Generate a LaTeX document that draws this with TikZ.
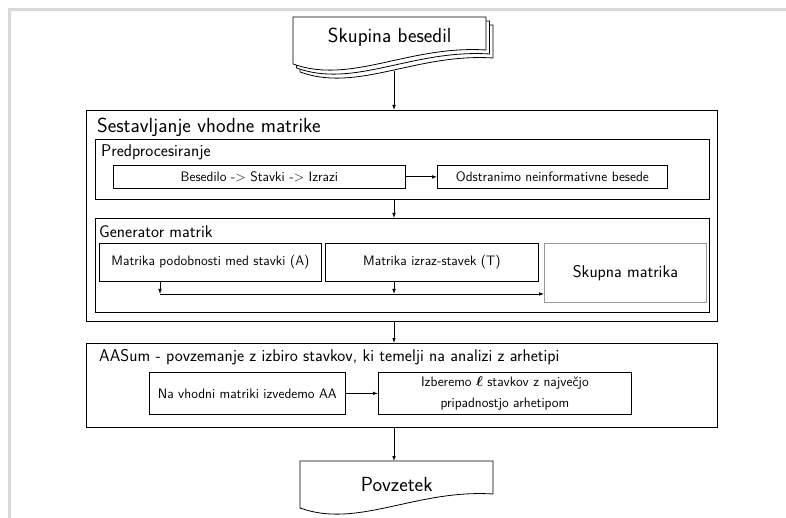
\documentclass[tikz,border=0pt]{standalone}
\usepackage{amsmath}
\usetikzlibrary{arrows.meta,calc}
\newcommand{\docpath}[3]{%
  \draw[line width=0.8pt, fill=white, #3] (#1,#2) -- ({#1+193},#2) -- ({#1+193},{#2+33})
    .. controls ({#1+115.8},{#2+28}) and ({#1+57.9},{#2+68}) .. (#1,{#2+47}) -- cycle;}
\begin{document}
\begin{tikzpicture}[x=1pt,y=-1pt,
  every node/.style={font=\sffamily},
  fLarge/.style={font=\sffamily\fontsize{20.4}{24}\selectfont},
  flarge/.style={font=\sffamily\fontsize{17}{20}\selectfont},
  fnorm/.style={font=\sffamily\fontsize{13.7}{21}\selectfont},
  box/.style={draw=black, line width=0.8pt, rectangle, inner sep=0pt, anchor=north west},
  ghost/.style={rectangle, inner sep=0pt, anchor=north west},
  arr/.style={line width=0.8pt, -{Latex[length=5pt,width=3.6pt]}},
  ln/.style={line width=0.8pt}
]
\useasboundingbox (0,0) rectangle (786,518);
% screenshot frame
\draw[line width=2.5pt, color=black!15] (786,9.5) -- (9.5,9.5) -- (9.5,518);

\coordinate (spine) at (394,0);
\coordinate (adrop) at (160,0);
\coordinate (busy) at (0,294);

% source document stack
\docpath{300}{25}{}
\docpath{296.5}{21}{}
\docpath{293}{17}{}
\node[ghost, fLarge, minimum width=193, minimum height=40] (src) at (293,17) {Skupina besedil};
\coordinate (srcbot) at (394,71);

% outer block
\node[box, minimum width=631, minimum height=211] (outer) at (86,110) {};
\node[fLarge, anchor=base west, inner sep=0pt] (outerT) at (97,133) {Sestavljanje vhodne matrike};

\node[box, minimum width=614, minimum height=60] (pre) at (95,139) {};
\node[flarge, anchor=base west, inner sep=0pt] (preT) at (101,157) {Predprocesiranje};
\node[box, fnorm, minimum width=292, minimum height=23] (bes) at (113,165) {Besedilo -> Stavki -> Izrazi};
\node[box, fnorm, minimum width=230, minimum height=23] (ods) at (437,165) {Odstranimo neinformativne besede};

\node[box, minimum width=614, minimum height=94] (gen) at (95,218) {};
\node[flarge, anchor=base west, inner sep=0pt] (genT) at (99,238) {Generator matrik};
\node[box, fnorm, minimum width=222, minimum height=38] (A) at (99,243) {Matrika podobnosti med stavki (A)};
\node[box, fnorm, minimum width=213, minimum height=38] (T) at (325,243) {Matrika izraz-stavek (T)};
\node[box, flarge, draw=black!40, minimum width=162, minimum height=59] (sk) at (544,243) {Skupna matrika};

% AASum block
\node[box, minimum width=631, minimum height=84] (aa) at (86,343) {};
\node[flarge, anchor=base west, inner sep=0pt] (aaT) at (99,361) {AASum - povzemanje z izbiro stavkov, ki temelji na analizi z arhetipi};
\node[box, fnorm, minimum width=196, minimum height=42] (na) at (149,372) {Na vhodni matriki izvedemo AA};
\node[box, fnorm, align=center, minimum width=253, minimum height=42] (iz) at (378,372) {Izberemo $\boldsymbol{\ell}$ stavkov z največjo\\pripadnostjo arhetipom};

% summary document
\docpath{300}{461}{}
\node[ghost, fLarge, minimum width=193, minimum height=46] (sum) at (300,461) {Povzetek};

% connectors
\draw[arr] (srcbot) -- (outer.north -| spine);
\draw[arr] (bes) -- (ods);
\draw[arr] (pre.south -| spine) -- (gen.north -| spine);
\draw[arr] (A.south -| adrop) -- (busy -| adrop);
\draw[arr] (T.south -| spine) -- (busy -| spine);
\draw[arr] (busy -| adrop) -- (busy -| sk.west);
\draw[arr] (outer.south -| spine) -- (aa.north -| spine);
\draw[arr] (na) -- (iz);
\draw[arr] (aa.south -| spine) -- (sum.north -| spine);
\end{tikzpicture}
\end{document}
